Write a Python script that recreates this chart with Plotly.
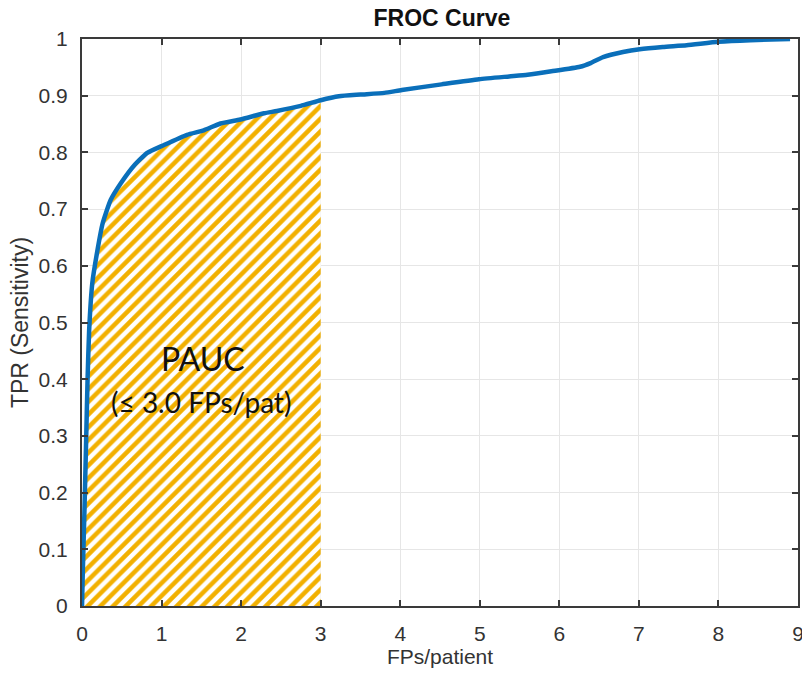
import plotly.graph_objects as go

# FROC curve
fps_per_patient = [0, 0.01, 0.03, 0.05, 0.07, 0.09, 0.13, 0.195, 0.26, 0.36, 0.49, 0.655,
                   0.82, 1.03, 1.32, 1.53, 1.74, 1.99, 2.29, 2.45, 2.75, 3.0, 3.23, 3.5, 3.8,
                   4.02, 4.52, 4.99, 5.37, 5.6, 5.9, 6.26, 6.4, 6.55, 6.8, 7.01, 7.3, 7.6,
                   8.0, 8.4, 8.9]
tpr = [0, 0.06, 0.164, 0.28, 0.40, 0.487, 0.57, 0.628, 0.675, 0.716, 0.746, 0.777,
       0.799, 0.813, 0.831, 0.839, 0.851, 0.858, 0.869, 0.873, 0.882, 0.892, 0.899, 0.902, 0.905,
       0.91, 0.92, 0.929, 0.934, 0.937, 0.943, 0.951, 0.958, 0.968, 0.977, 0.982, 0.986,
       0.989, 0.995, 0.998, 1.0]

pauc_limit = 3.0
x_ticks = [0, 1, 2, 3, 4, 5, 6, 7, 8, 9]
y_ticks = [0, 0.1, 0.2, 0.3, 0.4, 0.5, 0.6, 0.7, 0.8, 0.9, 1]

pauc_x = [x for x in fps_per_patient if x <= pauc_limit]
pauc_y = [y for x, y in zip(fps_per_patient, tpr) if x <= pauc_limit]

CURVE = "#0A6FBA"
HATCH = "#F2B000"
AXIS = "#3a3a3a"
TXT = "#333333"

fig = go.Figure()
fig.add_trace(go.Scatter(
    x=pauc_x, y=pauc_y, mode="lines", fill="tozeroy",
    line=dict(width=0, color=HATCH), fillcolor="white",
    fillpattern=dict(shape="/", fgcolor=HATCH, bgcolor="white", fgopacity=1,
                     size=9, solidity=0.5),
    hoverinfo="skip", showlegend=False))
fig.add_trace(go.Scatter(
    x=fps_per_patient, y=tpr, mode="lines", line_shape="spline",
    line=dict(color=CURVE, width=4.5, smoothing=0.5), showlegend=False))

fig.add_annotation(x=1.52, y=0.437, xref="x", yref="y", text="PAUC", showarrow=False,
                   font=dict(family="Lato", size=32, color="#111111"))
fig.add_annotation(x=1.5, y=0.36, xref="x", yref="y", text="(≤ 3.0 FPs/pat)", showarrow=False,
                   font=dict(family="Lato", size=28, color="#111111"))

axis_common = dict(
    showgrid=True, gridcolor="#e6e6e6", gridwidth=1,
    showline=True, linecolor=AXIS, linewidth=2, mirror="ticks",
    ticks="inside", ticklen=6, tickwidth=1.5, tickcolor=AXIS,
    zeroline=False, automargin=False, ticklabeloverflow="allow",
    tickfont=dict(family="Liberation Sans, Arial", size=21, color=TXT),
)

fig.update_xaxes(range=[0, 9], tickvals=x_ticks, ticklabelstandoff=8,
                 title=dict(text="FPs/patient", standoff=0,
                            font=dict(family="Liberation Sans, Arial", size=21, color=TXT)),
                 **axis_common)
fig.update_yaxes(range=[0, 1], tickvals=y_ticks, ticklabelstandoff=8,
                 title=dict(text="TPR (Sensitivity)", standoff=4,
                            font=dict(family="Liberation Sans, Arial", size=23, color=TXT)),
                 **axis_common)

fig.update_layout(
    width=802, height=679,
    margin=dict(l=82, r=4, t=39, b=73),
    paper_bgcolor="white", plot_bgcolor="white",
    title=dict(text="<b>FROC Curve</b>", x=0.551, xanchor="center", y=0.974, yanchor="middle",
               font=dict(family="Liberation Sans, Arial", size=23, color="#111111")),
)

fig.write_html("out.html", config={"displayModeBar": False},
               post_script="document.body.style.margin='0px';")
